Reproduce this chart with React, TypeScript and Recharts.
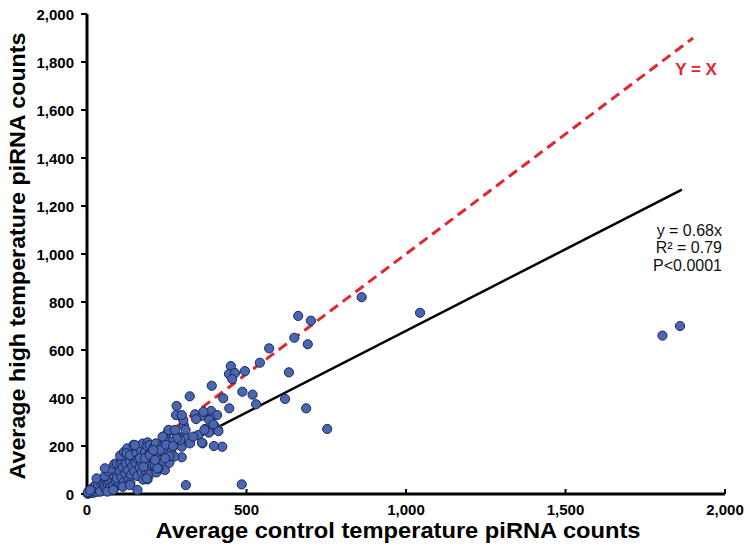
import React from 'react';
import { ScatterChart, Scatter, XAxis, YAxis, ReferenceLine } from 'recharts';

// --- Data (average control vs high temperature piRNA counts) ---
const nearOrigin: [number, number][] = [
  [2, 1], [5, 3], [8, 6], [10, 4], [12, 10], [15, 8], [18, 14], [20, 5], [22, 18], [25, 12],
  [28, 22], [30, 9], [32, 26], [35, 16], [38, 30], [40, 20], [42, 35], [45, 12], [48, 38], [50, 25],
  [6, 12], [14, 20], [3, 8], [20, 28], [26, 35], [10, 16], [35, 40], [44, 46], [41, 10], [30, 65],
  [52, 45], [55, 30], [58, 55], [60, 18], [62, 62], [65, 40], [68, 70], [70, 50], [72, 28], [75, 80],
  [78, 60], [80, 90], [82, 35], [85, 72], [88, 100], [90, 55], [92, 110], [95, 85], [98, 40], [100, 120],
  [56, 75], [66, 95], [76, 105], [86, 125], [94, 65], [64, 10], [84, 20], [82, 17], [56, 107], [93, 128],
];

const lowerBand: [number, number][] = [
  [102, 95], [105, 130], [108, 70], [110, 140], [112, 110], [115, 50], [118, 150], [120, 85], [122, 125], [125, 160],
  [128, 100], [130, 60], [132, 170], [135, 135], [138, 80], [140, 180], [142, 115], [145, 150], [148, 95], [150, 190],
  [104, 160], [116, 175], [126, 190], [136, 45], [146, 205], [112, 30], [124, 170], [135, 37], [151, 197], [135, 162],
  [152, 130], [155, 170], [158, 75], [160, 145], [162, 200], [165, 110], [168, 185], [170, 130], [172, 90], [175, 210],
  [178, 155], [180, 120], [182, 175], [185, 95], [188, 140], [190, 215], [192, 105], [195, 165], [198, 130], [200, 180],
  [176, 60], [196, 80], [158, 17], [190, 61], [187, 65], [166, 149], [177, 114], [189, 200], [150, 204], [197, 204],
  [203, 150], [206, 120], [210, 195], [214, 165], [218, 90], [222, 140], [226, 205], [232, 160], [236, 125], [240, 175],
  [244, 100], [250, 150], [254, 195], [258, 130], [224, 107], [213, 117], [221, 107], [216, 211], [182, 149], [197, 162],
];

const midBand: [number, number][] = [
  [250, 176], [265, 186], [229, 186], [218, 176], [239, 211], [248, 246], [255, 264], [292, 236], [286, 214], [297, 197],
  [318, 218], [304, 285], [294, 325], [279, 329], [281, 367], [339, 332], [362, 326], [389, 346], [408, 329], [386, 315],
  [398, 287], [370, 271], [388, 264], [410, 269], [349, 246], [362, 211], [424, 197], [309, 267], [271, 264], [256, 267],
  [283, 236], [297, 153], [274, 156], [258, 158], [302, 308], [342, 312], [383, 308], [412, 262], [382, 256], [398, 200],
  [312, 232], [323, 211], [333, 239], [292, 225], [281, 232], [260, 218], [245, 218], [237, 239], [229, 183], [208, 183],
  [245, 149], [213, 142], [276, 267], [297, 329], [365, 343], [396, 290], [368, 267], [360, 214], [248, 205], [270, 200],
];

const upperPoints: [number, number][] = [
  [451, 533], [445, 500], [464, 504], [455, 479], [495, 512], [542, 547], [391, 451], [322, 407], [427, 399], [446, 357],
  [487, 426], [519, 414], [530, 374], [571, 607], [633, 507], [621, 396], [687, 357], [753, 271], [650, 651], [692, 624],
  [662, 742], [702, 722], [861, 820], [1044, 755], [310, 37], [485, 40], [1804, 660], [1859, 700],
];

const xTicks = [0, 500, 1000, 1500, 2000];
const yTicks = [0, 200, 400, 600, 800, 1000, 1200, 1400, 1600, 1800, 2000];

const identityLine = [{ x: 0, y: 0 }, { x: 1900, y: 1900 }];
const fitLine = [{ x: 0, y: 0 }, { x: 1865, y: 1268 }];

const fitText = ['y = 0.68x', 'R² = 0.79', 'P<0.0001'];

const points = [...nearOrigin, ...lowerBand, ...midBand, ...upperPoints].map(([x, y]) => ({ x, y }));

const font = '"Liberation Sans", Arial, sans-serif';

const Dot = (props: any) => (
  <circle cx={props.cx} cy={props.cy} r={4.6} fill="#4a66b0" stroke="#1b2758" strokeWidth={1} />
);

const fmt = (v: number) => v.toLocaleString('en-US');

const XTick = (props: any) => (
  <text x={props.x} y={494 + 15} textAnchor="middle" dominantBaseline="central" fontSize={15} fontWeight={700} fill="#000" fontFamily={font}>
    {fmt(props.payload.value)}
  </text>
);

const YTick = (props: any) => (
  <text x={74} y={props.y} textAnchor="end" dominantBaseline="central" fontSize={15} fontWeight={700} fill="#000" fontFamily={font}>
    {fmt(props.payload.value)}
  </text>
);

export default function App() {
  return (
    <div style={{ position: 'absolute', left: 0, top: 0, width: 750, height: 552, background: '#fff', fontFamily: font }}>
      <ScatterChart width={750} height={552} margin={{ top: 14, right: 25, bottom: 0, left: 0 }}>
        <XAxis
          type="number"
          dataKey="x"
          domain={[0, 2000]}
          ticks={xTicks}
          height={58}
          axisLine={{ stroke: '#000', strokeWidth: 3 }}
          tickLine={{ stroke: '#000', strokeWidth: 2 }}
          tickSize={-5}
          tick={XTick}
        />
        <YAxis
          type="number"
          dataKey="y"
          domain={[0, 2000]}
          ticks={yTicks}
          width={87}
          axisLine={{ stroke: '#000', strokeWidth: 3 }}
          tickLine={{ stroke: '#000', strokeWidth: 2 }}
          tickSize={6}
          tick={YTick}
        />
        <Scatter data={points} shape={Dot} isAnimationActive={false} />
        <ReferenceLine segment={identityLine} stroke="#e0262e" strokeWidth={3} strokeDasharray="10 6" ifOverflow="visible" />
        <ReferenceLine segment={fitLine} stroke="#000" strokeWidth={2.5} ifOverflow="visible" />
      </ScatterChart>

      {/* titles and annotations */}
      <svg width={750} height={552} style={{ position: 'absolute', left: 0, top: 0, pointerEvents: 'none' }}>
        <text x={398} y={530} textAnchor="middle" dominantBaseline="central" fontSize={22} fontWeight={700} fontFamily={font} textLength={485} lengthAdjust="spacingAndGlyphs">
          Average control temperature piRNA counts
        </text>
        <text
          x={0}
          y={0}
          transform="translate(17,256) rotate(-90)"
          textAnchor="middle"
          dominantBaseline="central"
          fontSize={22}
          fontWeight={700}
          fontFamily={font}
          textLength={447}
          lengthAdjust="spacingAndGlyphs"
        >
          Average high temperature piRNA counts
        </text>
        <text x={696} y={69} textAnchor="middle" dominantBaseline="central" fontSize={17} fontWeight={700} fill="#e0262e" fontFamily={font}>
          Y = X
        </text>
        {fitText.map((t, i) => (
          <text key={t} x={722} y={230 + i * 17.5} textAnchor="end" dominantBaseline="central" fontSize={16} fill="#111" fontFamily={font}>
            {t}
          </text>
        ))}
      </svg>
    </div>
  );
}
